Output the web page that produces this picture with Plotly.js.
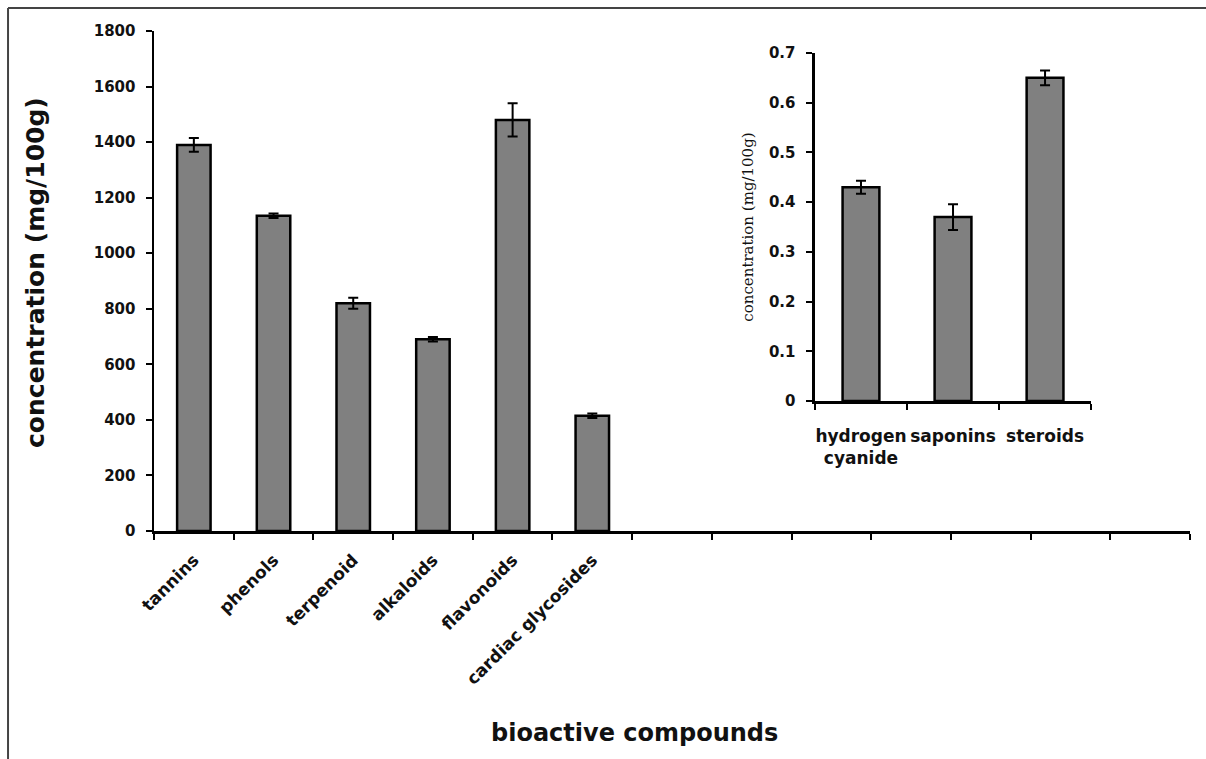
<!DOCTYPE html>
<html>
<head>
<meta charset="utf-8">
<script src="https://cdn.plot.ly/plotly-3.0.1.min.js"></script>
<style>
  html, body { margin: 0; padding: 0; background: #fff; }
  #chart { width: 1206px; height: 759px; }
</style>
</head>
<body>
<div id="chart"></div>
<script>
// Main chart data
const mainCategories = ["tannins", "phenols", "terpenoid", "alkaloids", "flavonoids", "cardiac glycosides"];
const mainValues = [1390, 1135, 820, 690, 1480, 415];
const mainErrors = [25, 8, 20, 8, 60, 8];
const mainYTicks = [0, 200, 400, 600, 800, 1000, 1200, 1400, 1600, 1800];

// Inset chart data
const insetCategories = ["hydrogen<br>cyanide", "saponins", "steroids"];
const insetValues = [0.43, 0.37, 0.65];
const insetErrors = [0.013, 0.026, 0.015];
const insetYTicks = [0, 0.1, 0.2, 0.3, 0.4, 0.5, 0.6, 0.7];

// Axis slots (main axis carries 13 category slots, only 6 used)
const mainSlots = 13;

const mainX = mainCategories.map((c, i) => i);
const insetX = insetCategories.map((c, i) => i);
const mainBounds = [];
for (let i = 0; i <= mainSlots; i++) mainBounds.push(i - 0.5);
const insetBounds = [];
for (let i = 0; i <= insetCategories.length; i++) insetBounds.push(i - 0.5);

const FONT = "DejaVu Sans";
const barStyle = { color: "#808080", line: { color: "#000", width: 2.5 } };

const traces = [
  {
    type: "bar", x: mainX, y: mainValues, width: 0.42,
    marker: barStyle,
    error_y: { type: "data", array: mainErrors, visible: true, color: "#000", thickness: 2, width: 5 },
    xaxis: "x", yaxis: "y", hoverinfo: "y"
  },
  {
    type: "bar", x: insetX, y: insetValues, width: 0.4,
    marker: barStyle,
    error_y: { type: "data", array: insetErrors, visible: true, color: "#000", thickness: 2, width: 5 },
    xaxis: "x2", yaxis: "y2", hoverinfo: "y"
  }
];

const axisLine = { showline: true, linecolor: "#000", linewidth: 2.5, showgrid: false, zeroline: false };

const layout = {
  width: 1206, height: 759,
  margin: { l: 154, r: 16, t: 31, b: 228 },
  paper_bgcolor: "#fff", plot_bgcolor: "rgba(0,0,0,0)",
  showlegend: false,
  font: { family: FONT, color: "#111" },
  xaxis: Object.assign({}, axisLine, {
    domain: [0, 1], anchor: "y",
    range: [-0.5, mainSlots - 0.5],
    tickmode: "array", tickvals: mainX, ticktext: mainCategories,
    ticks: "", tickangle: -45, ticklabelstandoff: 10,
    tickfont: { family: FONT, size: 17, weight: "bold", color: "#111" },
    minor: { tickmode: "array", tickvals: mainBounds, ticks: "outside", ticklen: 6, tickwidth: 2, tickcolor: "#000" }
  }),
  yaxis: Object.assign({}, axisLine, {
    domain: [0, 1], anchor: "x",
    range: [0, 1800],
    tickmode: "array", tickvals: mainYTicks,
    ticks: "outside", ticklen: 6, tickwidth: 2, tickcolor: "#000", ticklabelstandoff: 7,
    tickfont: { family: FONT, size: 15, weight: "bold", color: "#111" }
  }),
  xaxis2: Object.assign({}, axisLine, {
    domain: [0.638, 0.9045], anchor: "y2",
    range: [-0.5, insetCategories.length - 0.5],
    tickmode: "array", tickvals: insetX, ticktext: insetCategories,
    ticks: "", tickangle: 0, ticklabelstandoff: 18,
    tickfont: { family: FONT, size: 17, weight: "bold", color: "#111" },
    minor: { tickmode: "array", tickvals: insetBounds, ticks: "outside", ticklen: 6, tickwidth: 2, tickcolor: "#000" }
  }),
  yaxis2: Object.assign({}, axisLine, {
    domain: [0.26, 0.956], anchor: "x2",
    range: [0, 0.7],
    tickmode: "array", tickvals: insetYTicks,
    ticks: "outside", ticklen: 6, tickwidth: 2, tickcolor: "#000", ticklabelstandoff: 8,
    tickfont: { family: FONT, size: 15, weight: "bold", color: "#111" },
    title: { text: "concentration (mg/100g)", standoff: 12,
             font: { family: "DejaVu Serif", size: 15, color: "#111" } }
  }),
  annotations: [
    { text: "concentration (mg/100g)", xref: "paper", yref: "paper",
      x: -0.1149, y: 0.518, xanchor: "center", yanchor: "middle", textangle: -90, showarrow: false,
      font: { family: FONT, size: 25, weight: "bold", color: "#111" } },
    { text: "bioactive compounds", xref: "paper", yref: "paper",
      x: 0.464, y: -0.404, xanchor: "center", yanchor: "middle", showarrow: false,
      font: { family: FONT, size: 24, weight: "bold", color: "#111" } }
  ],
  shapes: [
    { type: "line", xref: "paper", yref: "paper", x0: -0.1409, x1: 1.02, y0: 1.046, y1: 1.046,
      line: { color: "#444", width: 2 } },
    { type: "line", xref: "paper", yref: "paper", x0: -0.1409, x1: -0.1409, y0: 1.046, y1: -0.47,
      line: { color: "#444", width: 2 } }
  ]
};

Plotly.newPlot("chart", traces, layout, { displayModeBar: false, staticPlot: true });
</script>
</body>
</html>
